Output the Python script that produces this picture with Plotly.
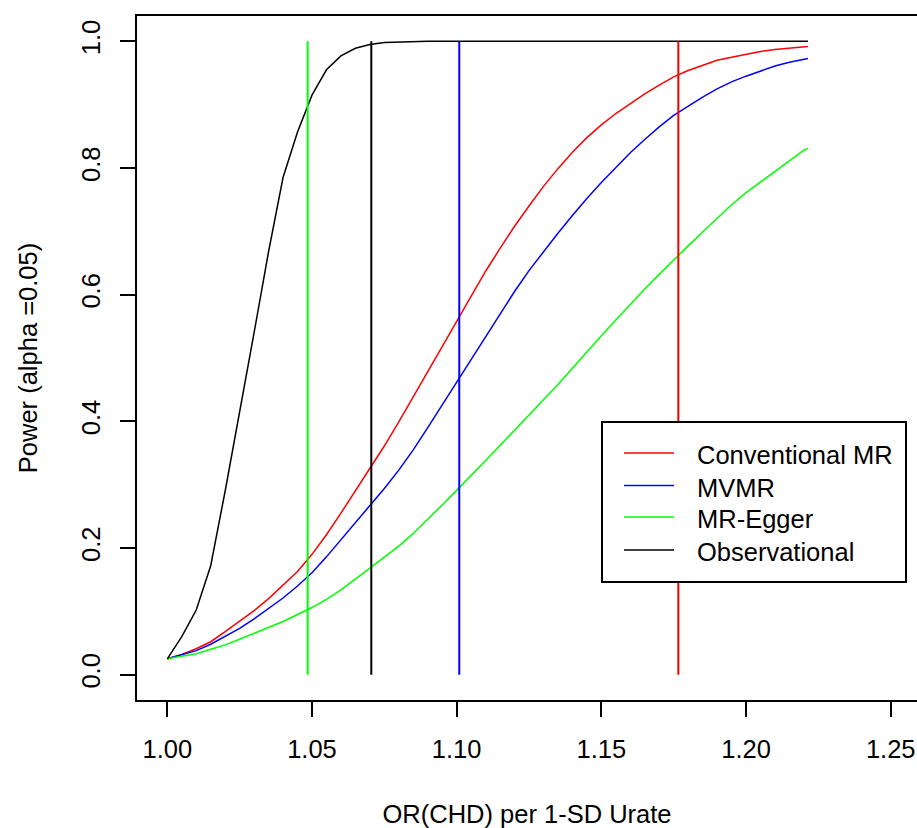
import plotly.graph_objects as go

# ---------------- data ----------------
odds_ratio = [1.000, 1.005, 1.010, 1.015, 1.020, 1.025, 1.030, 1.035, 1.040, 1.045,
              1.050, 1.055, 1.060, 1.065, 1.070, 1.075, 1.080, 1.085, 1.090, 1.095,
              1.100, 1.105, 1.110, 1.115, 1.120, 1.125, 1.130, 1.135, 1.140, 1.145,
              1.150, 1.155, 1.160, 1.165, 1.170, 1.175, 1.180, 1.185, 1.190, 1.195,
              1.200, 1.205, 1.210, 1.215, 1.220, 1.2214]

power_conventional = [0.025, 0.032, 0.041, 0.052, 0.068, 0.084, 0.101, 0.120, 0.141, 0.163,
                      0.190, 0.221, 0.255, 0.290, 0.324, 0.361, 0.399, 0.438, 0.477, 0.518,
                      0.558, 0.598, 0.637, 0.673, 0.708, 0.740, 0.771, 0.799, 0.825, 0.848,
                      0.868, 0.886, 0.902, 0.917, 0.931, 0.944, 0.954, 0.962, 0.970, 0.975,
                      0.980, 0.984, 0.987, 0.989, 0.991, 0.992]

power_mvmr = [0.025, 0.031, 0.038, 0.048, 0.060, 0.073, 0.088, 0.104, 0.121, 0.140,
              0.161, 0.186, 0.213, 0.240, 0.266, 0.294, 0.323, 0.355, 0.390, 0.426,
              0.461, 0.497, 0.533, 0.571, 0.605, 0.638, 0.668, 0.697, 0.725, 0.752,
              0.777, 0.801, 0.824, 0.845, 0.865, 0.883, 0.898, 0.912, 0.925, 0.936,
              0.945, 0.953, 0.961, 0.967, 0.972, 0.973]

power_egger = [0.025, 0.029, 0.033, 0.040, 0.047, 0.056, 0.065, 0.074, 0.084, 0.095,
               0.106, 0.119, 0.134, 0.151, 0.168, 0.185, 0.203, 0.223, 0.245, 0.268,
               0.291, 0.314, 0.338, 0.362, 0.386, 0.410, 0.433, 0.458, 0.484, 0.510,
               0.535, 0.560, 0.585, 0.609, 0.632, 0.655, 0.677, 0.699, 0.721, 0.742,
               0.761, 0.778, 0.795, 0.811, 0.828, 0.831]

power_observational = [0.025, 0.060, 0.102, 0.172, 0.290, 0.413, 0.540, 0.668, 0.785, 0.857,
                       0.915, 0.955, 0.977, 0.989, 0.995, 0.998, 0.999, 1.000, 1.000, 1.000,
                       1.000, 1.000, 1.000, 1.000, 1.000, 1.000, 1.000, 1.000, 1.000, 1.000,
                       1.000, 1.000, 1.000, 1.000, 1.000, 1.000, 1.000, 1.000, 1.000, 1.000,
                       1.000, 1.000, 1.000, 1.000, 1.000, 1.000]

series_names = ["Conventional MR", "MVMR", "MR-Egger", "Observational"]
series_colors = ["#FF0000", "#0000FF", "#00FF00", "#000000"]
series_values = [power_conventional, power_mvmr, power_egger, power_observational]

# vertical reference OR per method
reference_or = [1.1766, 1.1009, 1.0485, 1.0705]

x_ticks = [1.00, 1.05, 1.10, 1.15, 1.20, 1.25]
x_tick_labels = ["1.00", "1.05", "1.10", "1.15", "1.20", "1.25"]
y_ticks = [0.0, 0.2, 0.4, 0.6, 0.8, 1.0]
y_tick_labels = ["0.0", "0.2", "0.4", "0.6", "0.8", "1.0"]

# ---------------- layout geometry ----------------
W, H = 917, 828
L, R, T, B = 137, 0, 16, 128
PW, PH = W - L - R, H - T - B
FONT = "Liberation Sans, Arial, sans-serif"
FS = 25.5


def px_x(p):
    return (p - L) / PW


def px_y(p):
    return (T + PH - p) / PH


fig = go.Figure()

for name, color, vals in zip(series_names, series_colors, series_values):
    fig.add_trace(go.Scatter(x=odds_ratio, y=vals, mode="lines", name=name,
                             line=dict(color=color, width=1.5), showlegend=False))

for color, v in zip(series_colors, reference_or):
    fig.add_trace(go.Scatter(x=[v, v], y=[0, 1], mode="lines",
                             line=dict(color=color, width=2), showlegend=False,
                             hoverinfo="skip"))

# ---------------- manual legend (R style) ----------------
shapes = [dict(type="rect", xref="paper", yref="paper",
               x0=px_x(602), x1=px_x(906), y0=px_y(582), y1=px_y(422),
               line=dict(color="black", width=2), fillcolor="white", layer="above")]
annotations = []
row_y = [453, 485.5, 517, 550]
for name, color, ry in zip(series_names, series_colors, row_y):
    shapes.append(dict(type="line", xref="paper", yref="paper",
                       x0=px_x(624), x1=px_x(674), y0=px_y(ry), y1=px_y(ry),
                       line=dict(color=color, width=1.5), layer="above"))
    annotations.append(dict(xref="paper", yref="paper", x=px_x(695), y=px_y(ry + 2),
                            xanchor="left", yanchor="middle", showarrow=False,
                            text=name, font=dict(family=FONT, size=FS, color="black")))

fig.update_layout(
    width=W, height=H,
    margin=dict(l=L, r=R, t=T, b=B, pad=0),
    paper_bgcolor="white", plot_bgcolor="white",
    font=dict(family=FONT, size=FS, color="black"),
    shapes=shapes, annotations=annotations,
    showlegend=False,
)

fig.update_xaxes(
    range=[0.98953, 0.98953 + PW / 2893.6],
    tickvals=x_ticks, ticktext=x_tick_labels,
    ticks="outside", ticklen=15, tickwidth=2, tickcolor="black",
    showline=True, linecolor="black", linewidth=2, mirror=True,
    showgrid=False, zeroline=False,
    ticklabelstandoff=10,
    title=dict(text="OR(CHD) per 1-SD Urate", standoff=44,
               font=dict(family=FONT, size=FS)),
)
fig.update_yaxes(
    range=[-0.04, 1.04],
    tickvals=y_ticks, ticktext=y_tick_labels, tickangle=-90,
    ticks="outside", ticklen=15, tickwidth=2, tickcolor="black",
    showline=True, linecolor="black", linewidth=2, mirror=False,
    showgrid=False, zeroline=False,
    ticklabelstandoff=10,
    title=dict(text="Power (alpha =0.05)", standoff=32,
               font=dict(family=FONT, size=FS)),
)

fig.write_html("out.html")
